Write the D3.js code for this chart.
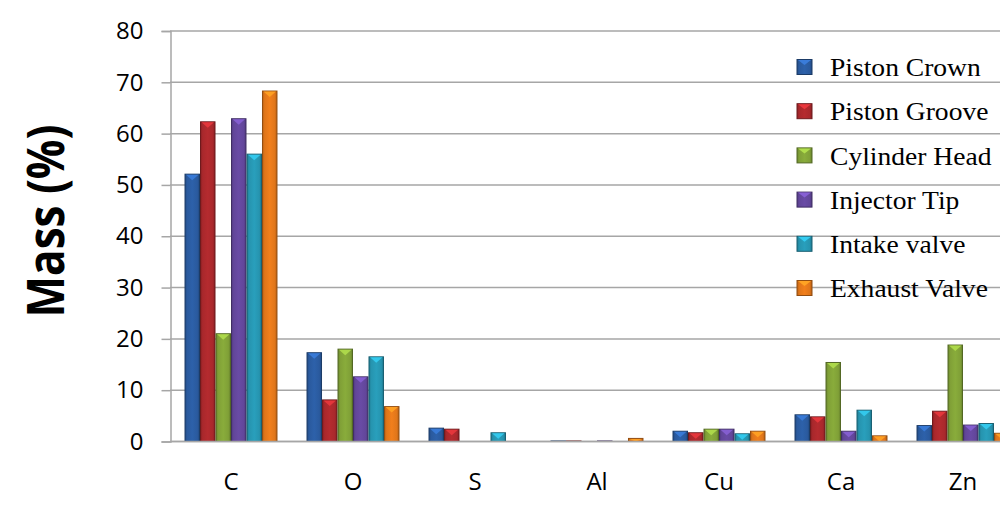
<!DOCTYPE html>
<html><head><meta charset="utf-8">
<script src="https://cdn.jsdelivr.net/npm/d3@7"></script>
<style>body{margin:0;background:#fff}svg{display:block}</style>
</head><body>
<svg id="c" width="1000" height="509"></svg>
<script>
const categories = ["C","O","S","Al","Cu","Ca","Zn"];
const seriesNames = ["Piston Crown","Piston Groove","Cylinder Head","Injector Tip","Intake valve","Exhaust Valve"];
const pistonCrown   = [52.1, 17.3, 2.6, 0.1, 2.0, 5.2, 3.1];
const pistonGroove  = [62.3,  8.1, 2.4, 0.1, 1.7, 4.8, 5.9];
const cylinderHead  = [21.0, 18.0, 0.0, 0.0, 2.4, 15.4, 18.8];
const injectorTip   = [62.9, 12.6, 0.0, 0.1, 2.4, 2.0, 3.2];
const intakeValve   = [56.0, 16.5, 1.7, 0.0, 1.5, 6.1, 3.5];
const exhaustValve  = [68.3,  6.8, 0.0, 0.6, 2.0, 1.1, 1.6];
const yTicks = [0,10,20,30,40,50,60,70,80];
const seriesValues = [pistonCrown, pistonGroove, cylinderHead, injectorTip, intakeValve, exhaustValve];
const colors = ["#2a5a9e","#a9282c","#80a037","#62469a","#2694af","#e0761a"];

const svg = d3.select("#c");
const x0 = d3.scaleBand().domain(categories).range([170, 1024]).paddingInner(0.238).paddingOuter(0.119);
const x1 = d3.scaleBand().domain(seriesNames).range([0, x0.bandwidth()]);
const y = d3.scaleLinear().domain([0, 80]).range([441.5, 31]);

const defs = svg.append("defs");
colors.forEach((c, i) => {
  const g = defs.append("linearGradient").attr("id", "g" + i).attr("x1", 0).attr("x2", 1).attr("y1", 0).attr("y2", 0);
  const col = d3.color(c);
  g.append("stop").attr("offset", "0%").attr("stop-color", col.darker(0.5));
  g.append("stop").attr("offset", "15%").attr("stop-color", col);
  g.append("stop").attr("offset", "50%").attr("stop-color", col.brighter(0.2));
  g.append("stop").attr("offset", "85%").attr("stop-color", col);
  g.append("stop").attr("offset", "100%").attr("stop-color", col.darker(0.6));
});

// gridlines
svg.append("g").selectAll("line").data(yTicks).join("line")
  .attr("x1", 170).attr("x2", 1000).attr("y1", d => y(d)).attr("y2", d => y(d))
  .attr("stroke", "#a6a6a6").attr("stroke-width", 1.5);

// y axis
const ya = svg.append("g").attr("transform", "translate(170.5,0)")
  .call(d3.axisLeft(y).tickValues(yTicks).tickSize(9).tickPadding(18));
ya.select(".domain").attr("stroke", "#a6a6a6").attr("stroke-width", 1.5);
ya.selectAll(".tick line").attr("stroke", "#a6a6a6").attr("stroke-width", 1.5);
ya.selectAll("text").attr("font-family", "Open Sans, sans-serif").attr("font-size", 24).attr("fill", "#000");

// bars
const groups = svg.append("g").selectAll("g").data(categories).join("g")
  .attr("transform", d => `translate(${x0(d)},0)`);
groups.each(function(cat, ci) {
  const g = d3.select(this);
  seriesNames.forEach((s, si) => {
    const v = seriesValues[si][ci];
    if (v <= 0) return;
    const bx = x1(s), bw = x1.bandwidth(), by = y(v), bh = y(0) - y(v);
    g.append("rect").attr("x", bx + 0.5).attr("y", by).attr("width", bw - 1).attr("height", bh)
      .attr("fill", `url(#g${si})`).attr("stroke", d3.color(colors[si]).darker(1.2)).attr("stroke-width", 1);
    const tri = Math.min(6, bh);
    g.append("path")
      .attr("d", `M${bx + 1.5},${by + 0.5}L${bx + bw - 1.5},${by + 0.5}L${bx + bw / 2},${by + tri}Z`)
      .attr("fill", d3.color(colors[si]).brighter(0.9)).attr("opacity", 0.9);
  });
});

// x axis line
svg.append("line").attr("x1", 170).attr("x2", 1000).attr("y1", y(0)).attr("y2", y(0))
  .attr("stroke", "#a6a6a6").attr("stroke-width", 1.5);

// category labels
svg.append("g").selectAll("text").data(categories).join("text")
  .attr("x", d => x0(d) + x0.bandwidth() / 2).attr("y", 490)
  .attr("text-anchor", "middle").attr("font-family", "Open Sans, sans-serif").attr("font-size", 24)
  .text(d => d);

// y title
svg.append("text").attr("transform", "translate(64,221) rotate(-90)")
  .attr("text-anchor", "middle").attr("font-family", "Open Sans, sans-serif").attr("font-weight", "bold")
  .attr("font-size", 52).attr("textLength", 193).attr("lengthAdjust", "spacingAndGlyphs")
  .text("Mass (%)");

// legend
const lg = svg.append("g").selectAll("g").data(seriesNames).join("g")
  .attr("transform", (d, i) => `translate(797,${67 + i * 44.2})`);
lg.append("rect").attr("x", 0).attr("y", -7.5).attr("width", 15).attr("height", 15)
  .attr("fill", (d, i) => `url(#g${i})`).attr("stroke", (d, i) => d3.color(colors[i]).darker(1.2));
lg.append("path").attr("d", "M1,-7L14,-7L7.5,-2Z").attr("fill", (d, i) => d3.color(colors[i]).brighter(0.9));
lg.append("text").attr("transform", "translate(33,0) scale(1.06,1)").attr("dy", "0.35em")
  .attr("font-family", "Liberation Serif, Times New Roman, serif").attr("font-size", 26)
  .text(d => d);
</script>
</body></html>
